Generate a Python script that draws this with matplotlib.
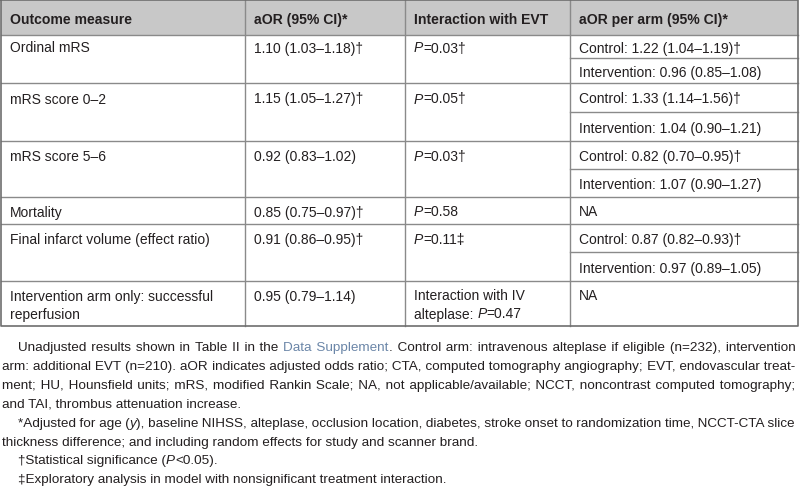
import re
import matplotlib
matplotlib.use("Agg")
import matplotlib.pyplot as plt

# ---------------- data ----------------
headers = ["Outcome measure", "aOR (95% CI)*", "Interaction with EVT", "aOR per arm (95% CI)*"]
outcome_measures = ["Ordinal mRS", "mRS score 0–2", "mRS score 5–6", "Mortality",
                    "Final infarct volume (effect ratio)",
                    "Intervention arm only: successful\nreperfusion"]
aor_overall = ["1.10 (1.03–1.18)†", "1.15 (1.05–1.27)†", "0.92 (0.83–1.02)",
               "0.85 (0.75–0.97)†", "0.91 (0.86–0.95)†", "0.95 (0.79–1.14)"]
interaction_evt = ["_P_=0.03†", "_P_=0.05†", "_P_=0.03†", "_P_=0.58", "_P_=0.11‡",
                   "Interaction with IV\nalteplase: _P_=0.47"]
arm_control = ["Control: 1.22 (1.04–1.19)†", "Control: 1.33 (1.14–1.56)†",
               "Control: 0.82 (0.70–0.95)†", "NA", "Control: 0.87 (0.82–0.93)†", "NA"]
arm_intervention = ["Intervention: 0.96 (0.85–1.08)", "Intervention: 1.04 (0.90–1.21)",
                    "Intervention: 1.07 (0.90–1.27)", None,
                    "Intervention: 0.97 (0.89–1.05)", None]
footnote_lines = [
    ("Unadjusted results shown in Table II in the {Data Supplement}. Control arm: intravenous alteplase if eligible (n=232), intervention", True, True),
    ("arm: additional EVT (n=210). aOR indicates adjusted odds ratio; CTA, computed tomography angiography; EVT, endovascular treat-", False, True),
    ("ment; HU, Hounsfield units; mRS, modified Rankin Scale; NA, not applicable/available; NCCT, noncontrast computed tomography;", False, True),
    ("and TAI, thrombus attenuation increase.", False, False),
    ("*Adjusted for age (_y_), baseline NIHSS, alteplase, occlusion location, diabetes, stroke onset to randomization time, NCCT-CTA slice", True, True),
    ("thickness difference; and including random effects for study and scanner brand.", False, False),
    ("†Statistical significance (_P_<0.05).", True, False),
    ("‡Exploratory analysis in model with nonsignificant treatment interaction.", True, False),
]

# ---------------- layout ----------------
W, H = 800, 489
FAM = ["Liberation Sans", "DejaVu Sans"]
TXT = "#231f20"
LINK = "#6b86a8"
col_x = [1, 245, 405, 570, 798]
header_top, header_bot = 1, 36
# sub-row boundaries (pixels from top)
sub_lines = [36, 59, 84, 113, 142, 170, 198, 225, 253, 282, 327]
table_size = 10.0
head_size = 10.1
foot_size = 9.7
LINE_STEP = 18
HAIR = "\u200a"
THIN = "\u2009"

fig = plt.figure(figsize=(W / 100, H / 100), dpi=100)
ax = fig.add_axes([0, 0, 1, 1])
ax.set_xlim(0, W)
ax.set_ylim(H, 0)
ax.axis("off")
renderer = fig.canvas.get_renderer()

_wcache = {}


def tw(s, size, weight="normal", style="normal"):
    key = (s, size, weight, style)
    if key in _wcache:
        return _wcache[key]
    t = ax.text(0, 0, "x" + s + "x", fontsize=size, family=FAM, weight=weight, style=style)
    w1 = t.get_window_extent(renderer).width
    t.set_text("xx")
    w0 = t.get_window_extent(renderer).width
    t.remove()
    _wcache[key] = w1 - w0
    return w1 - w0


def parse(s):
    runs = []
    for part in re.split(r"(_[^_]+_|\{[^}]+\})", s):
        if not part:
            continue
        if part.startswith("_") and part.endswith("_"):
            runs.append([part[1:-1], "italic", TXT])
        elif part.startswith("{"):
            runs.append([part[1:-1], "normal", LINK])
        else:
            runs.append([part, "normal", TXT])
    return runs


def gap_candidates(size):
    cands = []
    for base in ["", THIN, " "]:
        for k in range(0, 12):
            s = base + HAIR * k
            if s:
                cands.append((s, tw(s, size)))
    return cands


def draw_line(x, y_center, s, size, weight="normal", justify_to=None):
    runs = parse(s)
    if justify_to is not None:
        natural = sum(tw(t, size, weight, st) for t, st, c in runs)
        n = sum(t.count(" ") for t, st, c in runs)
        sp = tw(" ", size, weight)
        g = (justify_to - x - (natural - n * sp)) / n
        cands = gap_candidates(size)
        acc_d = 0.0
        acc_a = 0.0
        for r in runs:
            out = []
            for ch in r[0]:
                if ch == " ":
                    acc_d += g
                    need = acc_d - acc_a
                    best = min(cands, key=lambda c: abs(c[1] - need))
                    out.append(best[0])
                    acc_a += best[1]
                else:
                    out.append(ch)
            r[0] = "".join(out)
    base = y_center + size * 100 / 72 * 0.36
    cx = x
    for t, st, c in runs:
        ax.text(cx, base, t, fontsize=size, family=FAM, weight=weight, style=st,
                color=c, va="baseline", ha="left")
        cx += tw(t, size, weight, st)


# header
ax.add_patch(plt.Rectangle((col_x[0], header_top), col_x[-1] - col_x[0], header_bot - header_top,
                           facecolor="#c8c8c8", edgecolor="none", zorder=0))
for i, hd in enumerate(headers):
    draw_line(col_x[i] + 9, (header_top + header_bot) / 2 + 0.5, hd, head_size, weight="bold")

LC = "#8a8a8a"
LW = 1.0
si = 0
table_bot = sub_lines[-1]
for r in range(len(outcome_measures)):
    nsub = 2 if arm_intervention[r] is not None else 1
    bot = sub_lines[si + nsub]
    c1 = (sub_lines[si] + sub_lines[si + 1]) / 2
    cells = [outcome_measures[r], aor_overall[r], interaction_evt[r], arm_control[r]]
    max_lines = max(len(c.split("\n")) for c in cells)
    first_y = c1 - (max_lines - 1) / 2 * LINE_STEP
    for ci, txt in enumerate(cells):
        for li, line in enumerate(txt.split("\n")):
            draw_line(col_x[ci] + 9, first_y + li * LINE_STEP, line, table_size)
    if arm_intervention[r] is not None:
        c2 = (sub_lines[si + 1] + sub_lines[si + 2]) / 2
        draw_line(col_x[3] + 9, c2, arm_intervention[r], table_size)
        ax.plot([col_x[3], col_x[4]], [sub_lines[si + 1]] * 2, color=LC, lw=LW)
    if bot < table_bot:
        ax.plot([col_x[0], col_x[4]], [bot, bot], color=LC, lw=LW)
    si += nsub

ax.plot([col_x[0], col_x[4]], [header_bot, header_bot], color=LC, lw=LW)
for xx in col_x[1:-1]:
    ax.plot([xx, xx], [header_top, table_bot], color=LC, lw=LW)
ax.plot([col_x[0], col_x[0], col_x[4], col_x[4], col_x[0]],
        [header_top, table_bot, table_bot, header_top, header_top], color="#6e6e6e", lw=1.2)

# footnotes
fy0 = 346.5
for i, (s, indent, just) in enumerate(footnote_lines):
    x0 = 18 if indent else 2
    draw_line(x0, fy0 + i * 18.85, s, foot_size, justify_to=795 if just else None)

fig.savefig("out.png", dpi=100)
